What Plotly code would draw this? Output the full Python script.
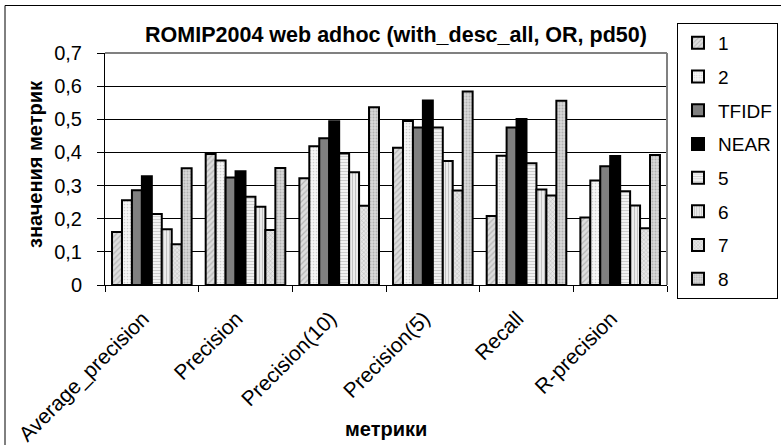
import plotly.graph_objects as go

categories = ["Average_precision", "Precision", "Precision(10)", "Precision(5)", "Recall", "R-precision"]
series_names = ["1", "2", "TFIDF", "NEAR", "5", "6", "7", "8"]
s1 = [0.160, 0.395, 0.322, 0.414, 0.208, 0.204]
s2 = [0.256, 0.376, 0.419, 0.495, 0.390, 0.315]
s_tfidf = [0.286, 0.324, 0.443, 0.475, 0.475, 0.358]
s_near = [0.328, 0.343, 0.494, 0.557, 0.501, 0.389]
s5 = [0.214, 0.266, 0.397, 0.475, 0.367, 0.283]
s6 = [0.168, 0.236, 0.340, 0.374, 0.288, 0.240]
s7 = [0.123, 0.166, 0.239, 0.285, 0.270, 0.171]
s8 = [0.352, 0.353, 0.536, 0.584, 0.556, 0.392]
all_values = [s1, s2, s_tfidf, s_near, s5, s6, s7, s8]

y_ticks = [0, 0.1, 0.2, 0.3, 0.4, 0.5, 0.6, 0.7]
y_tick_labels = ["0", "0,1", "0,2", "0,3", "0,4", "0,5", "0,6", "0,7"]
title_text = "ROMIP2004 web adhoc (with_desc_all, OR, pd50)"
x_title = "метрики"
y_title = "значения метрик"

styles = [
    dict(color="#d0d0d0", pattern=dict(shape="/", fgcolor="#8c8c8c", bgcolor="#dedede", size=4, solidity=0.3)),
    dict(color="#f2f2f2", pattern=dict(shape=".", fgcolor="#a8a8a8", bgcolor="#f6f6f6", size=3, solidity=0.25)),
    dict(color="#808080", pattern=None),
    dict(color="#000000", pattern=None),
    dict(color="#e8e8e8", pattern=dict(shape="-", fgcolor="#a0a0a0", bgcolor="#f2f2f2", size=3, solidity=0.3)),
    dict(color="#dcdcdc", pattern=dict(shape="|", fgcolor="#909090", bgcolor="#ececec", size=3, solidity=0.3)),
    dict(color="#d0d0d0", pattern=dict(shape="x", fgcolor="#8a8a8a", bgcolor="#e6e6e6", size=3, solidity=0.3)),
    dict(color="#cccccc", pattern=dict(shape=".", fgcolor="#8a8a8a", bgcolor="#d8d8d8", size=3, solidity=0.35)),
]

FONT = "Liberation Sans, Arial, sans-serif"

fig = go.Figure()
for name, vals, st in zip(series_names, all_values, styles):
    marker = dict(color=st["color"], line=dict(color="black", width=2))
    if st["pattern"] is not None:
        marker["pattern"] = st["pattern"]
    fig.add_trace(go.Bar(name=name, x=categories, y=vals, marker=marker, legendgroup=name))

fig.update_layout(
    width=781, height=445,
    margin=dict(l=105, r=114, t=53, b=160, autoexpand=False),
    paper_bgcolor="white", plot_bgcolor="white",
    barmode="group", bargap=0.15, bargroupgap=0,
    font=dict(family=FONT, size=19, color="black"),
    showlegend=True,
    legend=dict(
        x=(677 - 105) / 562, y=1 + (53 - 23) / 232, xanchor="left", yanchor="top",
        bordercolor="black", borderwidth=1, bgcolor="white",
        font=dict(size=19), tracegroupgap=6, maxheight=400,
    ),
    title=dict(text="<b>" + title_text + "</b>", x=(396 - 105) / 562, xref="paper", xanchor="center",
               y=1 - 34 / 445, yref="container", yanchor="middle", font=dict(size=21.5)),
)

fig.update_xaxes(
    type="category", showline=True, linecolor="black", linewidth=1,
    ticks="outside", tickson="boundaries", ticklen=6, tickcolor="black",
    tickangle=-45, tickfont=dict(size=21), showgrid=False,
    ticklabelstandoff=12, ticklabelshift=-9,
)
fig.update_yaxes(
    range=[0, 0.7], tickvals=y_ticks, ticktext=y_tick_labels,
    showline=True, linecolor="black", linewidth=1,
    ticks="outside", ticklen=7, tickcolor="black", ticklabelstandoff=11,
    showgrid=True, gridcolor="black", gridwidth=1, zeroline=False,
    tickfont=dict(size=20),
)

fig.add_shape(type="line", xref="paper", yref="paper", x0=0, x1=1, y0=1, y1=1,
              line=dict(color="#808080", width=2))
fig.add_shape(type="line", xref="paper", yref="paper", x0=1, x1=1, y0=0, y1=1,
              line=dict(color="#808080", width=2))
# outer chart border
fig.add_shape(type="rect", xref="paper", yref="paper",
              x0=(5 - 105) / 562, x1=(800 - 105) / 562,
              y0=-(470 - 285) / 232, y1=1 + (53 - 5.5) / 232,
              line=dict(color="black", width=1), layer="below")

fig.add_annotation(text="<b>" + x_title + "</b>", xref="paper", yref="paper",
                   x=(386 - 105) / 562, y=-(429 - 285) / 232, xanchor="center", yanchor="middle",
                   showarrow=False, font=dict(size=20))
fig.add_annotation(text="<b>" + y_title + "</b>", xref="paper", yref="paper",
                   x=(35 - 105) / 562, y=(285 - 164) / 232, xanchor="center", yanchor="middle",
                   textangle=-90, showarrow=False, font=dict(size=20))

fig.write_html("out.html")
